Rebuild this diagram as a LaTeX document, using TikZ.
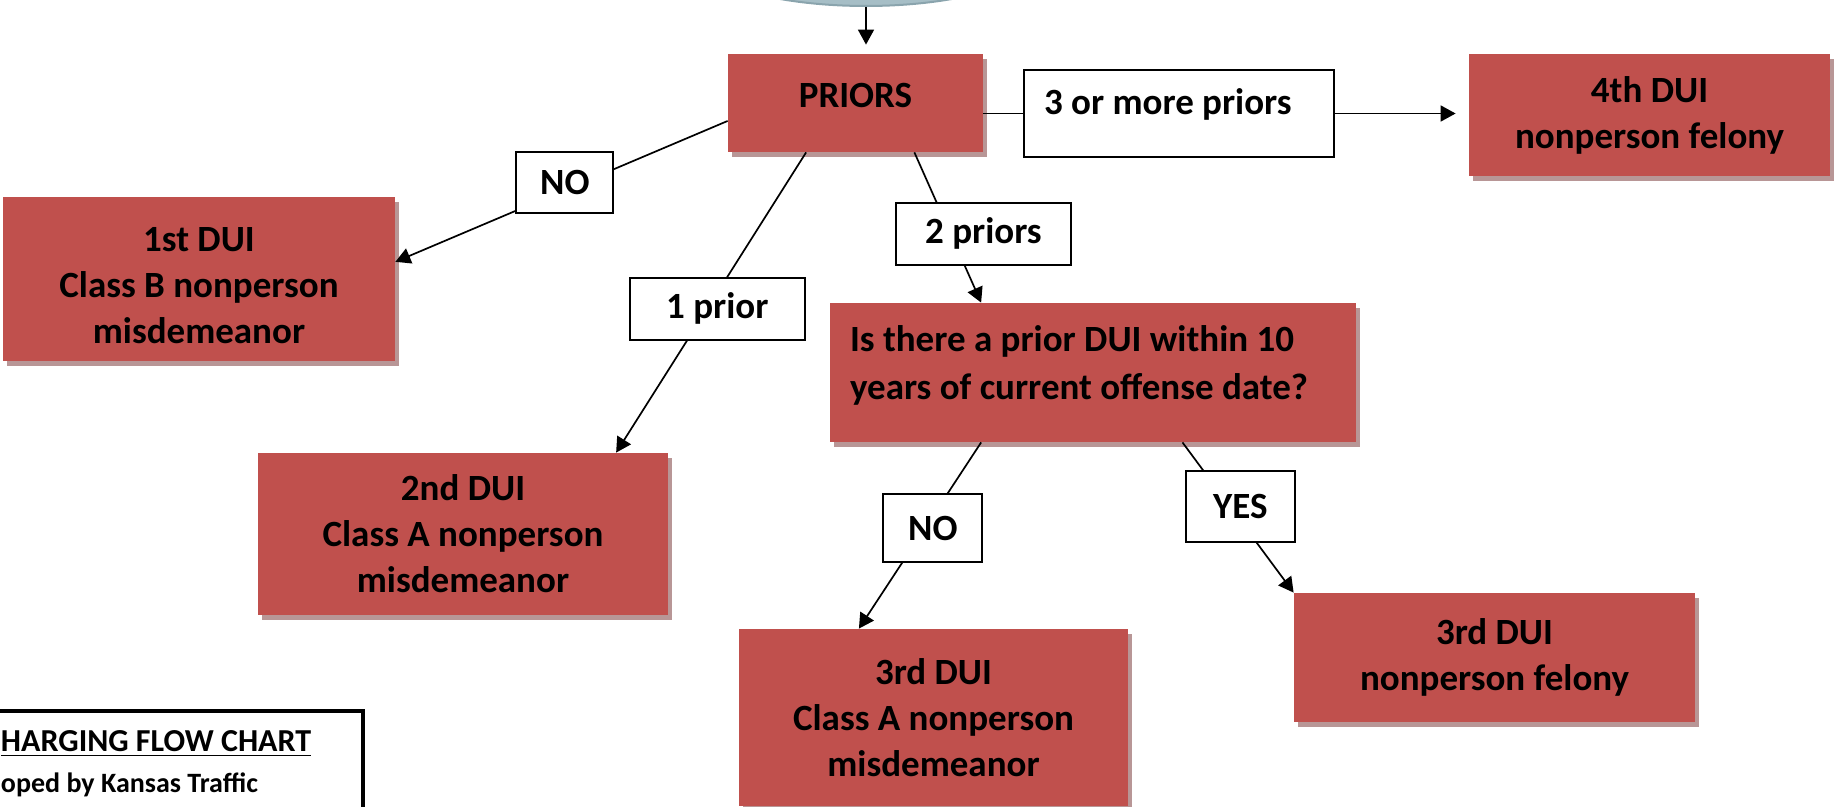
\documentclass[tikz,border=0pt]{standalone}
\usepackage{fontspec}
\setmainfont{Carlito}
\usetikzlibrary{arrows.meta,shadows,shapes.geometric}
\definecolor{boxred}{HTML}{C0504D}
\definecolor{boxshade}{HTML}{B89696}
\definecolor{ellfill}{HTML}{A6BEC6}
\definecolor{elledge}{HTML}{8AA4AD}

\begin{document}
\begin{tikzpicture}[x=0.5pt,y=-0.5pt]
\tikzstyle{every node}+=[font=\bfseries\fontsize{18.5}{23}\selectfont]
\tikzstyle{result}=[rectangle,fill=boxred,align=center,inner sep=0pt,drop shadow={shadow xshift=2pt,shadow yshift=-2.5pt,fill=boxshade,opacity=1}]
\tikzstyle{answer}=[rectangle,draw=black,line width=1pt,fill=white,inner sep=0pt]
\tikzstyle{startell}=[ellipse,fill=ellfill,draw=elledge,line width=1pt,minimum width=183pt,minimum height=60pt]
\tikzstyle{chartnote}=[rectangle,draw=black,line width=2pt,fill=white,align=flush left,inner xsep=20pt,inner ysep=10pt,text width=161pt,font=\bfseries\fontsize{16}{20.5}\selectfont]
\tikzstyle{link}=[line width=0.85pt]
\tikzstyle{arrow}=[link,-{Triangle[length=7.5pt,width=8pt]}]
\useasboundingbox (0,0) rectangle (1839,807);
\clip (0,0) rectangle (1839,807);
\node[startell] (arrest) at (866,-54) {};
\node[result,minimum width=127.5pt,minimum height=49pt,inner ysep=0pt,text height=27pt,text depth=22pt] (priors) at (855.5,103) {PRIORS};
\node[answer,minimum width=155pt,minimum height=43.5pt,text width=135pt,inner xsep=10pt,inner ysep=0pt,text height=22.5pt,text depth=21pt,align=flush left] (more) at (1179,113.5) {3 or more priors};
\node[result,minimum width=180.5pt,minimum height=61pt] (dui4) at (1649.5,115) {4th DUI\\nonperson felony};
\node[result,minimum width=196pt,minimum height=82pt,text width=196pt,align=flush center,inner ysep=0pt,text height=27.5pt,text depth=54.5pt] (dui1) at (199,279) {1st DUI\\Class B nonperson\\misdemeanor};
\node[result,minimum width=205pt,minimum height=81pt] (dui2) at (463,534) {2nd DUI\\Class A nonperson\\misdemeanor};
\node[result,minimum width=263pt,minimum height=69.5pt,text width=243pt,inner xsep=10pt,inner ysep=0pt,align=flush left,text height=24pt,text depth=45.5pt,font=\bfseries\fontsize{18.5}{24}\selectfont] (window) at (1093,372.5) {Is there a prior DUI within 10\\years of current offense date?};
\node[result,minimum width=194.5pt,minimum height=88.5pt] (dui3a) at (933.5,717.5) {3rd DUI\\Class A nonperson\\misdemeanor};
\node[result,minimum width=200.5pt,minimum height=64.5pt] (dui3f) at (1494.5,657.5) {3rd DUI\\nonperson felony};
\node[chartnote,anchor=north west] (chart) at (-41,709) {\underline{HARGING FLOW CHART}\\{\fontsize{14}{20.5}\selectfont oped by Kansas Traffic}};
\draw[arrow,shorten >=4.5pt] (arrest.south) -- (arrest.south |- priors.north);
\draw[link] (priors.east |- more.west) -- (more.west);
\draw[arrow,shorten >=6.5pt] (more.east) -- (more.east -| dui4.west);
\draw[arrow] (priors.188) -- node[answer,pos=0.49,yshift=3.5pt,minimum width=48.5pt,minimum height=30.5pt] (no1) {NO} (dui1.5);
\draw[arrow] (priors.225) -- node[answer,pos=0.52,xshift=5pt,minimum width=87.5pt,minimum height=31pt] (prior1) {1 prior} (dui2.28);
\draw[arrow] (priors.320) -- node[answer,pos=0.54,xshift=16.5pt,minimum width=87.5pt,minimum height=31pt] (prior2) {2 priors} (window.148);
\draw[arrow] (window.212) -- node[answer,pos=0.46,xshift=4pt,minimum width=49.5pt,minimum height=34pt] (no2) {NO} (dui3a.130);
\draw[arrow] (window.322) -- node[answer,pos=0.43,xshift=5pt,minimum width=54.5pt,minimum height=35.5pt] (yes) {YES} (dui3f.north west);
\end{tikzpicture}
\end{document}
